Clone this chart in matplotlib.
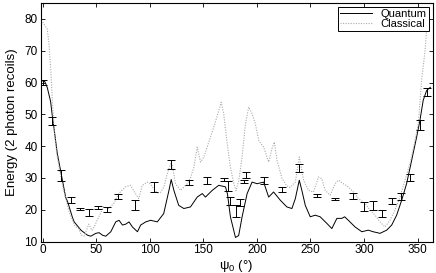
import matplotlib
matplotlib.use('Agg')
import matplotlib.pyplot as plt

plt.rcParams['font.family'] = ['Liberation Sans', 'DejaVu Sans']
plt.rcParams['mathtext.fontset'] = 'custom'
plt.rcParams['mathtext.rm'] = 'Liberation Sans'

# quantum curve (solid)
q_psi = [0, 2, 4.3, 7.4, 9, 10.8, 13.6, 17, 21.4, 23.3, 27.6, 29.4, 33.8, 35.7, 41.9, 45,
         49.6, 52.7, 55.9, 58.9, 63.6, 68.2, 71.3, 74.5, 77.6, 80.6, 83.8, 88.5, 91.5, 96.2,
         100.8, 107, 113, 117.9, 120, 122.5, 127, 131.8, 138, 144.3, 149, 152, 158.3, 164.4,
         170.7, 172.5, 175.3, 180, 183, 186.2, 190.9, 195.5, 200.2, 206.3, 211, 215.6, 221.9,
         228, 232.7, 235.9, 239.6, 242, 245.2, 249.8, 254.5, 259.1, 265.4, 270, 274.7, 279.3,
         282, 286, 291.7, 298, 304, 308.6, 315, 321.2, 325.9, 330.5, 335.2, 339.8, 344.5,
         349.2, 352.2, 355.3, 358.5, 362]
q_energy = [60.5, 60.3, 58.4, 54, 49.5, 45, 37.8, 31.8, 24, 22.5, 17.8, 16.2, 14.4, 13.6, 12, 11.7,
            12.6, 12.8, 12, 11.7, 13.1, 16.2, 16.7, 15.2, 15.5, 16.2, 14.6, 13.1, 15.2, 16.2,
            16.7, 16.2, 18.8, 26.1, 29.5, 26.1, 21.4, 20.4, 20.9, 24, 25.1, 24, 26.1, 27.7,
            27.2, 25, 17.8, 11.3, 11.9, 17.8, 25.1, 28.7, 28.2, 28.7, 24, 25.6, 23,
            20.9, 20.4, 23.5, 29.3, 26.1, 21.4, 17.8, 18.3, 17.8, 15.7, 14.1, 17.3, 17.3,
            17.8, 16.5, 14.6, 13.1, 13.6, 13.1, 12.6, 13.6, 15.2, 18.3, 23, 28.2, 35.5,
            42.9, 48, 54.4, 57.5, 58.5]

# classical curve (dotted)
c_psi = [0, 1.2, 4.3, 5.9, 7.4, 9, 10.5, 13, 16, 20, 25, 30, 33.8, 36, 39, 43, 46, 48,
         52.4, 57, 61.7, 66.4, 71, 77.3, 81.9, 86.6, 89.7, 93, 97.8, 101, 104, 107, 110,
         113.2, 116, 119.5, 121, 124, 128.8, 135, 138, 141.2, 144.3, 147.4, 150.5, 155.1,
         159.8, 164.4, 166.7, 169, 172.3, 175.3, 178.4, 180.5, 183, 186.2, 189.3, 192.4,
         195.5, 198.6, 201.7, 206.3, 211, 214.1, 216.3, 218.8, 223.5, 228, 231, 235.9,
         239.6, 243.6, 248.2, 252.9, 257.5, 260.6, 263.8, 268.4, 273.1, 276.2, 280.8,
         285.5, 290.1, 294.8, 301, 305.7, 310.3, 315, 319.6, 324.3, 329, 333.6, 338.3,
         342.9, 347.6, 350.7, 353.8, 357, 358.5, 361, 362]
c_energy = [79, 78.4, 76.8, 72, 64.8, 54.4, 46, 38, 32, 25.5, 19, 15, 14, 12, 11.8, 15.5, 13.5, 14.6,
            17.8, 20.9, 20.4, 22, 25.1, 27.2, 27.7, 25.1, 23.5, 27.7, 28.7, 28, 26.5, 25.3, 25.5,
            27.2, 31, 34.5, 34, 28.2, 26.1, 28.2, 30, 33.4, 39.7, 35, 36.6, 41.3,
            46, 51.2, 53.8, 50.2, 40.8, 33.4, 28.2, 26, 29, 36.6, 47, 52.3,
            50.2, 47, 41.8, 39.7, 35, 39.2, 41.3, 35.5, 29.8, 27.5, 27, 28.7,
            36.6, 29.3, 26.1, 25.6, 30.3, 29.8, 26.1, 24.6, 28.2, 29.3, 28.2,
            27.2, 25.6, 23.5, 22, 19.9, 18.3, 16.2, 14.6, 16.7, 19.9, 24, 29.3,
            34.5, 41.8, 47, 60.6, 70, 76.3, 78.5, 79]

# measured points with error bars
m_psi = [0, 8.7, 17, 26.3, 34.4, 43, 51.8, 60.2, 70.4, 86.6,
         103.5, 120, 136.5, 153.6, 169.7, 172.8, 174.9, 180.3, 184, 187.7,
         190.2, 207, 223.5, 239.6, 256.6, 273.1, 289.6, 300.1, 308.2, 317.2,
         325.9, 334.3, 343.2, 352.2, 358.5]
m_energy = [60, 47.8, 30.8, 23, 20.2, 19.2, 20.7, 20, 24.2, 21.5,
            27.1, 34.2, 28.6, 29.2, 29.5, 27.5, 22.7, 19.5, 22.3, 28.8,
            31, 29.3, 26.5, 33.2, 24.4, 23.3, 24.4, 21.1, 21.3, 18.7,
            22.8, 24.2, 30.2, 46.6, 57.1]
m_err = [0.8, 1.3, 1.6, 1, 0.3, 1.2, 0.4, 0.8, 0.7, 1.6,
         1.6, 1.5, 0.9, 1.05, 0.55, 1.45, 1.25, 1.9, 1.2, 0.5,
         0.9, 1.05, 0.8, 1.3, 0.5, 0.3, 0.9, 1.4, 1.4, 1.1,
         1, 1.2, 1.2, 1.5, 1.2]

fig = plt.figure(figsize=(4.36, 2.73), dpi=100)
ax = fig.add_axes([0.093, 0.115, 0.899, 0.874])

ax.plot(q_psi, q_energy, color='black', lw=0.7, label='Quantum')
ax.plot(c_psi, c_energy, color='#aaaaaa', lw=0.8, ls=(0, (1, 1.3)), label='Classical')
ax.errorbar(m_psi, m_energy, yerr=m_err, fmt='none', ecolor='black',
            elinewidth=0.7, capsize=2.6, capthick=0.7)

ax.set_xlim(-2, 364)
ax.set_ylim(10, 85)
ax.set_xticks(range(0, 351, 50))
ax.set_yticks(range(10, 81, 10))
ax.tick_params(direction='in', top=True, right=True, labelsize=8.5,
               length=3, width=0.6, pad=2)
for s in ax.spines.values():
    s.set_linewidth(0.8)

ax.set_xlabel('ψ$_0$ (°)', fontsize=9.5, labelpad=1)
ax.set_ylabel('Energy (2 photon recoils)', fontsize=9.5, labelpad=5)

leg = ax.legend(loc='upper right', fontsize=8, frameon=True, fancybox=False,
                edgecolor='black', framealpha=1, borderaxespad=0.35,
                handlelength=2.8, borderpad=0.2, labelspacing=0.0, handletextpad=0.8)
leg.get_frame().set_linewidth(0.7)

fig.savefig('out.png', dpi=100)
